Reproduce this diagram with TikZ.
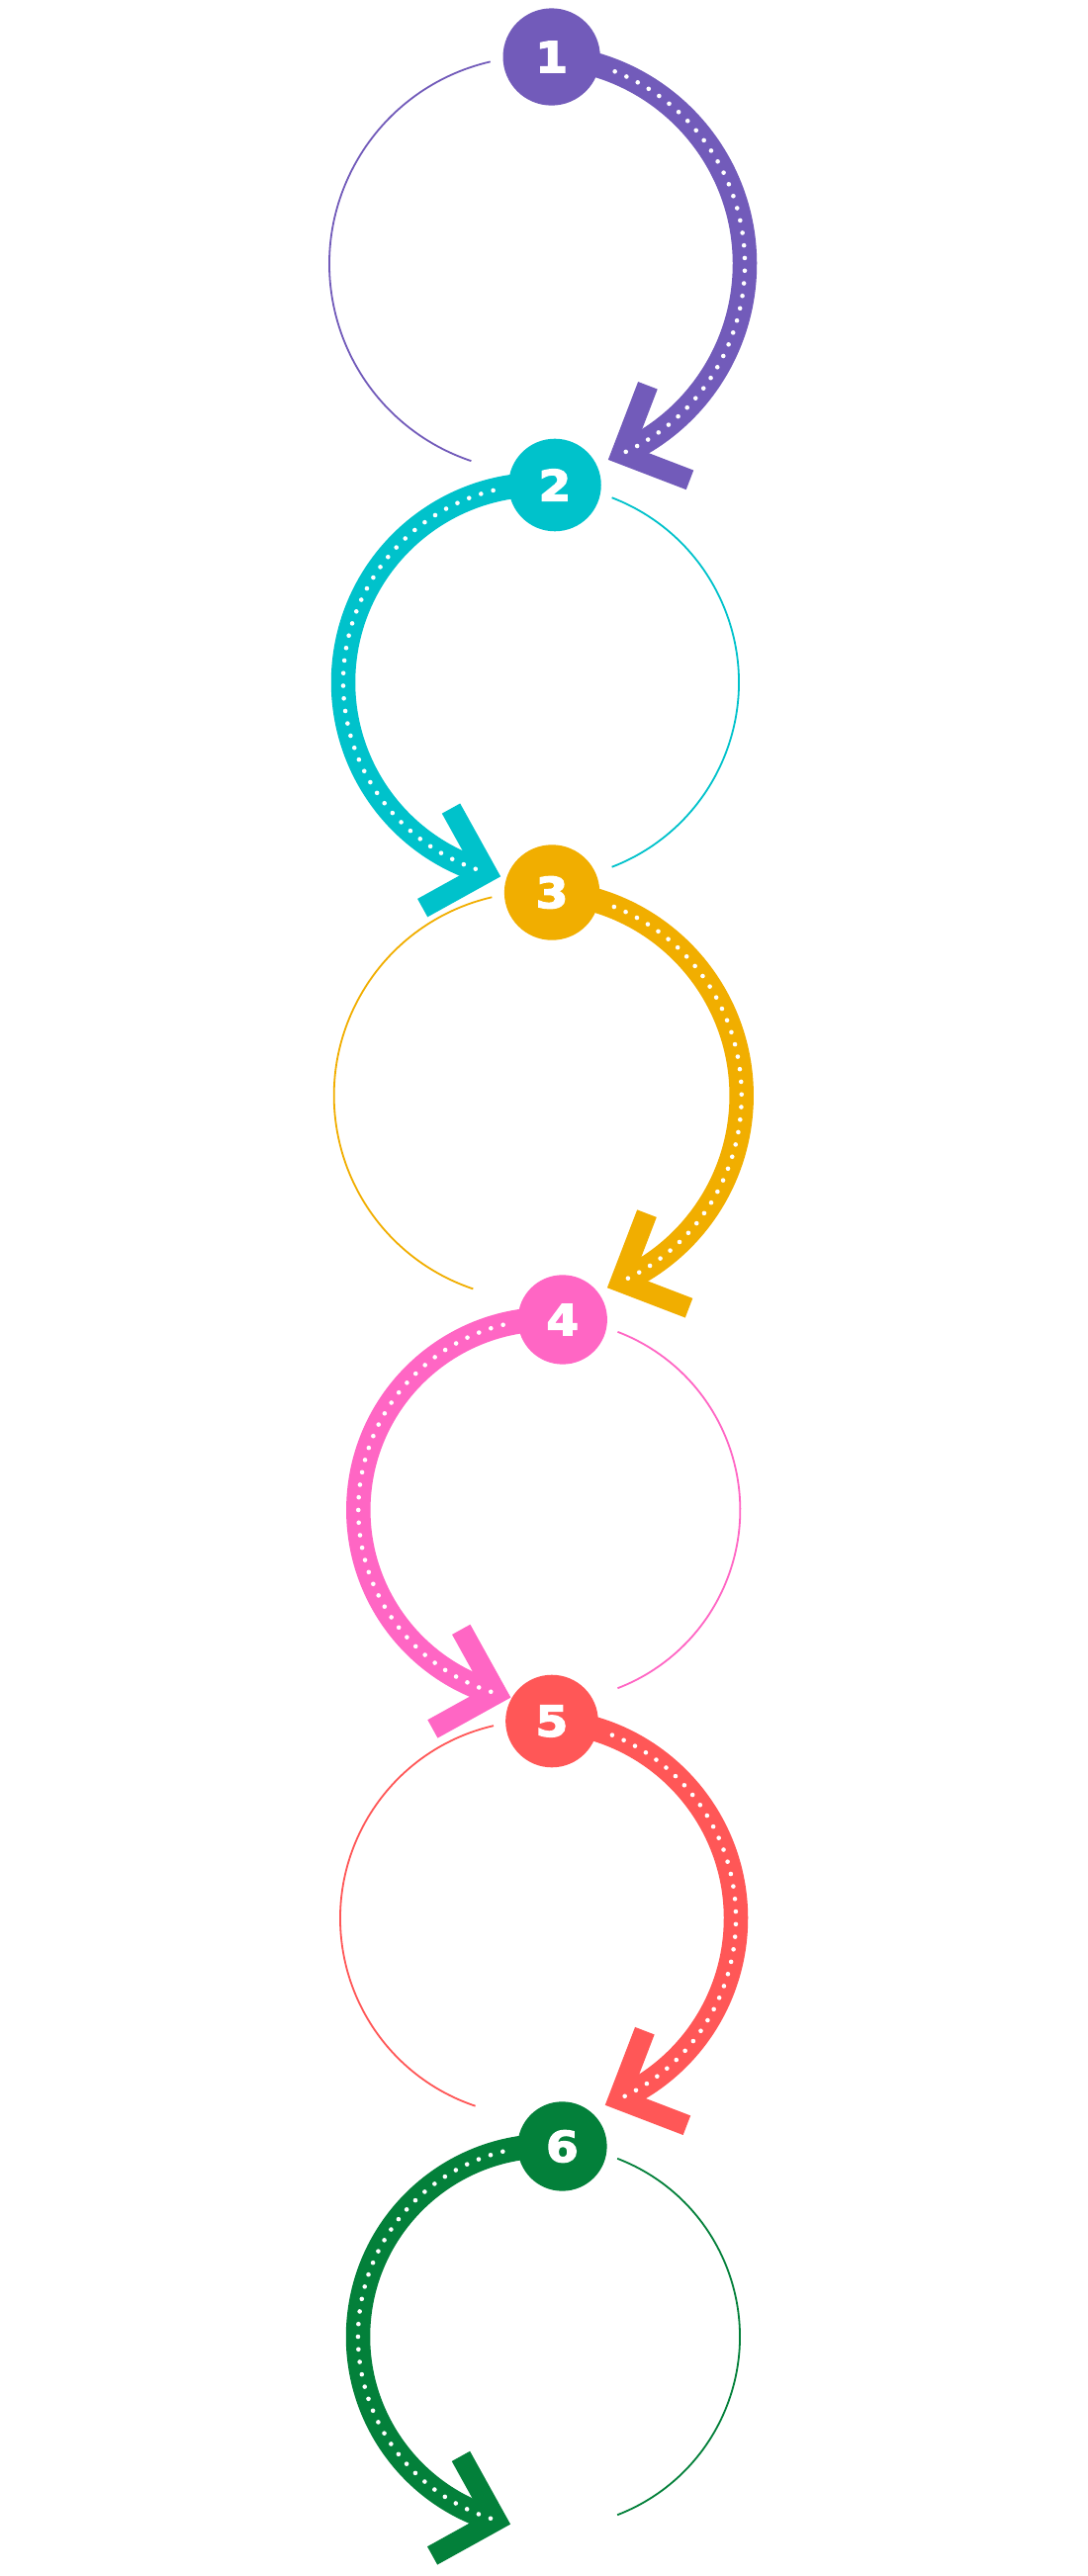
\documentclass[tikz,border=0pt]{standalone}
\usepackage{fontspec}
\usepackage{tikz}
\usetikzlibrary{arrows.meta,positioning,calc}
\usepackage{xcolor}
\newfontfamily\stepfont{DejaVu Sans}[BoldFeatures={FakeBold=3,FakeStretch=1.1}]

\definecolor{cPurple}{RGB}{114,91,186}
\definecolor{cTeal}{RGB}{0,194,203}
\definecolor{cAmber}{RGB}{241,174,0}
\definecolor{cPink}{RGB}{255,102,196}
\definecolor{cCoral}{RGB}{255,87,87}
\definecolor{cGreen}{RGB}{3,128,58}

\begin{document}
\begin{tikzpicture}[x=1pt,y=1pt,
   thinring/.style={draw=#1,line width=1.8pt},
   thickring/.style={draw=#1,line width=24.5pt},
   chev/.style={draw=#1,line width=21pt,line join=miter},
   dotline/.style={draw=white,line width=4.6pt,line cap=round,dash pattern=on 0pt off 12.8pt},
   badge/.style={circle,fill=#1,text=white,inner sep=0pt,
     font=\stepfont\bfseries\fontsize{43}{43}\selectfont}]
  \path[use as bounding box,fill=white] (0,0) rectangle (1100,-2605);
  % one ring per step: centre, radius, colour, end of the thick arc, thin arc span
  \foreach \i/\cx/\cy/\r/\col/\te/\ta/\tb in {
      1/543/267/210/cPurple/-66/103/251.5,
      2/547/690/200/cTeal/254/69/-69,
      3/543.7/1108/206/cAmber/-66/103/251.5,
      4/555.3/1527/193/cPink/254/69/-69,
      5/544/1940/200/cCoral/-66/103/251.5,
      6/555/2363/193/cGreen/254/69/-69}{
    \pgfmathsetmacro{\dir}{\te<86 ? -1 : 1}
    \pgfmathsetmacro{\ds}{86+18*\dir}
    \pgfmathsetmacro{\rot}{\te+90*\dir}
    \coordinate (c\i) at (\cx,-\cy);
    \draw[thinring=\col] ([shift={(\ta:\r)}]c\i) arc[start angle=\ta,end angle=\tb,radius=\r];
    \draw[thickring=\col] ([shift={(86:\r)}]c\i) arc[start angle=86,end angle=\te,radius=\r] coordinate (e\i);
    \draw[chev=\col,shift={(e\i)},rotate=\rot] (-52.3,52.3) -- (0,0) -- (-52.3,-52.3);
    \draw[dotline] ([shift={(\ds:\r)}]c\i) arc[start angle=\ds,end angle=\te,radius=\r];
    \node[badge=\col,minimum size=0.468*\r] (b\i) at ([shift={(86:\r)}]c\i) {\i};
  }
\end{tikzpicture}
\end{document}
